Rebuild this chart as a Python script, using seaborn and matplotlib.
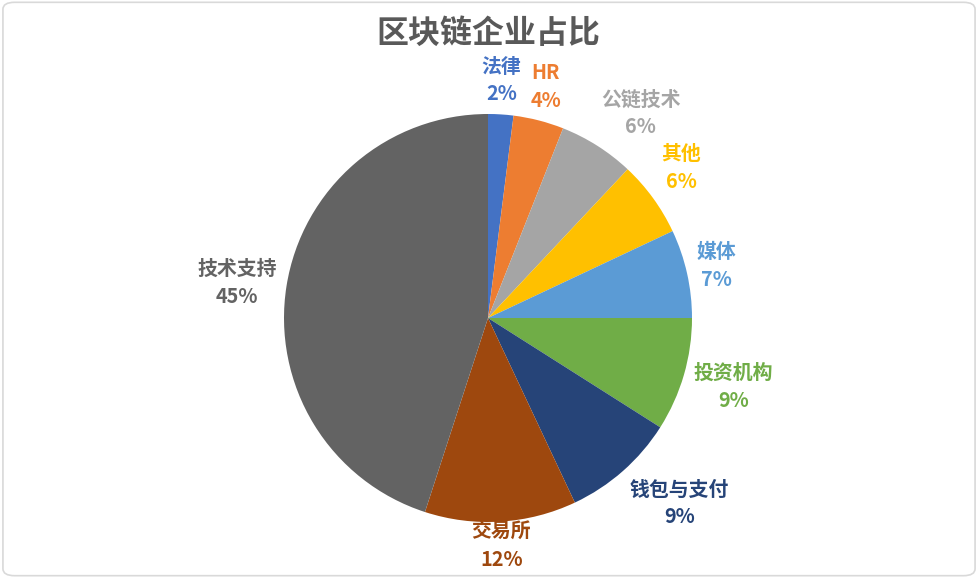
import matplotlib
matplotlib.use("Agg")
import numpy as np
import matplotlib.pyplot as plt
import seaborn as sns
from matplotlib.patches import FancyBboxPatch

categories = ["法律", "HR", "公链技术", "其他", "媒体", "投资机构", "钱包与支付", "交易所", "技术支持"]
values = [2, 4, 6, 6, 7, 9, 9, 12, 45]
colors = ["#4472C4", "#ED7D31", "#A5A5A5", "#FFC000", "#5B9BD5",
          "#70AD47", "#264478", "#9E480E", "#636363"]
title = "区块链企业占比"

sns.set_theme(style="white")
plt.rcParams['font.family'] = ['Noto Sans CJK SC', 'DejaVu Sans']

W, H = 978, 578
fig = plt.figure(figsize=(W / 100, H / 100), dpi=100)
fig.patch.set_facecolor("white")

cx, cy, R = 488, 260, 204
L = 1.6
ax = fig.add_axes([(cx - L * R) / W, (cy - L * R) / H, 2 * L * R / W, 2 * L * R / H])

labels = [f"{c}\n{v}%" for c, v in zip(categories, values)]
wedges, texts = ax.pie(values, colors=colors, startangle=90, counterclock=False,
                       labels=labels, labeldistance=1.2,
                       wedgeprops=dict(linewidth=0))
for t, col in zip(texts, colors):
    t.set_color(col)
    t.set_fontsize(14.3)
    t.set_fontweight("bold")
    t.set_ha("center")
    t.set_va("center")
    t.set_linespacing(1.4)

ax.set_xlim(-L, L)
ax.set_ylim(-L, L)
ax.set_aspect("equal")
ax.axis("off")

# place labels "outside end" like Excel
fig.canvas.draw()
renderer = fig.canvas.get_renderer()
gap = 10


def shift(v):
    return np.sign(v) * np.clip(2.3 * (abs(v) - 0.12), 0, 1)


for w, t in zip(wedges, texts):
    bb = t.get_window_extent(renderer)
    tw, th = bb.width, bb.height
    ang = np.deg2rad((w.theta1 + w.theta2) / 2)
    c, s = np.cos(ang), np.sin(ang)
    px = (R + gap) * c + shift(c) * tw / 2
    py = (R + gap) * s + shift(s) * th / 2
    if abs(s) > 0.9:
        py = (R + gap) * s + np.sign(s) * th / 2
    py = max(py, -(cy - 8 - th / 2))
    t.set_position((px / R, py / R))

fig.text(cx / W, 1 - 34 / H, title, ha="center", va="center",
         fontsize=23, fontweight="bold", color="#595959")

border = FancyBboxPatch((0.003, 0.004), 0.994, 0.992, boxstyle="round,pad=0,rounding_size=0.012",
                        transform=fig.transFigure, facecolor="none", edgecolor="#D9D9D9",
                        linewidth=1.2)
fig.patches.append(border)

fig.savefig("out.png", dpi=100)
